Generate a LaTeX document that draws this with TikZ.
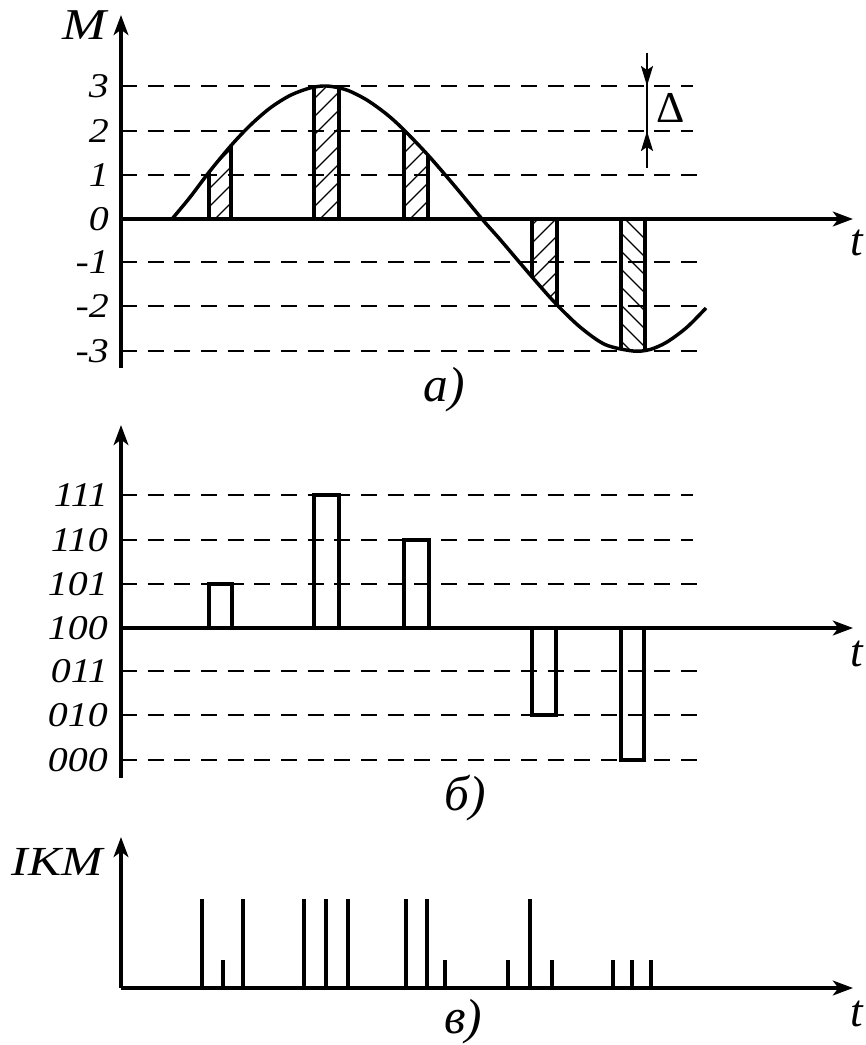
\documentclass[tikz,border=0pt]{standalone}
\usepackage{fontspec}
\setmainfont{Liberation Serif}
\newfontfamily\widefont[FakeStretch=1.15]{Liberation Serif}
\newfontfamily\widerfont[FakeStretch=1.2]{Liberation Serif}
\usetikzlibrary{arrows.meta}
\tikzset{
  axisline/.style={line width=3pt,-{Stealth[length=15pt,width=11pt,inset=4pt]}},
  dashline/.style={line width=2pt,dash pattern=on 12pt off 8pt},
  curveline/.style={line width=2.6pt,line join=round},
  barside/.style={line width=3pt},
  hatchline/.style={line width=1pt},
  codebar/.style={line width=2.8pt},
  pulse/.style={line width=2.5pt},
  lvl/.style={anchor=east,inner sep=0pt,font=\widefont\fontsize{26}{30}\selectfont\itshape},
  axname/.style={inner sep=0pt,font=\widerfont\fontsize{33}{38}\selectfont\itshape},
  tname/.style={inner sep=0pt,font=\fontsize{34}{40}\selectfont\itshape},
  capt/.style={inner sep=0pt,font=\fontsize{37}{44}\selectfont\itshape},
  dimarrow/.style={line width=1.5pt,-{Stealth[length=15pt,width=9pt,inset=3pt]}}
}
\begin{document}
\begin{tikzpicture}[x=0.75pt,y=-0.75pt]
\useasboundingbox (0,0) rectangle (865,1045);
\fill[white] (0,0) rectangle (865,1045);

% ================= panel a =================
\coordinate (aO) at (121,219);
\coordinate (aB) at (121,368);
\coordinate (aT) at (121,15);
\coordinate (aR) at (853,219);

% dashed levels
\foreach \y/\e in {86/693,131/693,175/703,262/703,306/703,351/703}
  \draw[dashline] (121,\y) -- (\e,\y);

% hatched samples
\begin{scope}
  \clip plot[smooth,tension=0.5] coordinates {(172,219) (190,197.3) (209,172.2) (231,145.6) (250,125.5) (270,108.1) (290,95.5) (310,88) (327,86) (347,90.1) (367,100.1) (387,114.5) (404,130) (428,155.1) (455,186.4) (482,219) (500,239.4) (520,262.9) (540,286.1) (557,304.9) (580,327) (605,344.5) (633,351) (650,349.5) (667,342) (687,327.2) (706,308)} -- (706,219) -- cycle;
  \foreach \xl/\xr in {209/231,314/339,404/428,532/557}{
    \begin{scope}
      \clip (\xl,0) rectangle (\xr,400);
      \foreach \k in {-8,...,12}
        \draw[hatchline] (\xl-5,230-\k*18) -- ++(50,-50);
    \end{scope}
  }
  \begin{scope}
    \clip (621,0) rectangle (645,400);
    \foreach \k in {-8,...,12}
      \draw[hatchline] (616,210-\k*18) -- ++(50,50);
  \end{scope}
  \foreach \x in {209,231,314,339,404,428}
    \draw[barside] (\x,219) -- (\x,40);
  \foreach \x in {532,557,621,645}
    \draw[barside] (\x,219) -- (\x,400);
\end{scope}

% signal curve
\draw[curveline] plot[smooth,tension=0.5] coordinates {(172,219) (190,197.3) (209,172.2) (231,145.6) (250,125.5) (270,108.1) (290,95.5) (310,88) (327,86) (347,90.1) (367,100.1) (387,114.5) (404,130) (428,155.1) (455,186.4) (482,219) (500,239.4) (520,262.9) (540,286.1) (557,304.9) (580,327) (605,344.5) (633,351) (650,349.5) (667,342) (687,327.2) (706,308)};

% axes
\draw[axisline] (aO) -- (aR);
\draw[axisline] (aB) -- (aT);

% level labels
\node[lvl] (a3) at (109,86) {3};
\node[lvl] (a2) at (109,131) {2};
\node[lvl] (a1) at (109,175) {1};
\node[lvl] (a0) at (109,219) {0};
\node[lvl] (am1) at (109,262) {-1};
\node[lvl] (am2) at (109,306) {-2};
\node[lvl] (am3) at (109,351) {-3};
\node[axname] (aM) at (84,25) {M};
\node[tname] (at) at (857,243) {t};
\node[capt] (acap) at (444,390) {а)};

% delta
\coordinate (d1) at (647,53);
\coordinate (d2) at (647,86);
\coordinate (d3) at (647,131);
\coordinate (d4) at (647,168);
\draw[line width=1.5pt] (d1) -- (d4);
\draw[dimarrow] (d1) -- (d2);
\draw[dimarrow] (d4) -- (d3);
\node[inner sep=0pt,font=\fontsize{33}{38}\selectfont] (delta) at (671,108) {Δ};

% ================= panel b =================
\coordinate (bO) at (121,628);
\coordinate (bB) at (121,778);
\coordinate (bT) at (121,425);
\coordinate (bR) at (853,628);
\foreach \y/\e in {495/693,540/693,584/703,671/703,715/703,760/703}
  \draw[dashline] (121,\y) -- (\e,\y);
\draw[codebar] (209,628) rectangle (232,584);
\draw[codebar] (314,628) rectangle (339,495);
\draw[codebar] (404,628) rectangle (429,540);
\draw[codebar] (532,628) rectangle (556,715);
\draw[codebar] (621,628) rectangle (644,760);
\draw[axisline] (bO) -- (bR);
\draw[axisline] (bB) -- (bT);
\node[lvl] (b111) at (108,495) {111};
\node[lvl] (b110) at (108,540) {110};
\node[lvl] (b101) at (108,584) {101};
\node[lvl] (b100) at (108,628) {100};
\node[lvl] (b011) at (108,671) {011};
\node[lvl] (b010) at (108,715) {010};
\node[lvl] (b000) at (108,760) {000};
\node[tname] (bt) at (857,654) {t};
\node[capt] (bcap) at (465,798) {б)};

% ================= panel c =================
\coordinate (cO) at (121,988);
\coordinate (cT) at (121,837);
\coordinate (cR) at (853,988);
\foreach \x in {202,243,304,326,348,406,427,530}
  \draw[pulse] (\x,988) -- (\x,899);
\foreach \x in {223,445,508,552,613,632,651}
  \draw[pulse] (\x,988) -- (\x,960);
\draw[axisline] (cO) -- (cR);
\draw[axisline] (cO) -- (cT);
\node[inner sep=0pt,font=\widerfont\fontsize{31}{36}\selectfont\itshape] (cIKM) at (57,862) {IKM};
\node[tname] (ct) at (857,1014) {t};
\node[capt] (ccap) at (463,1022) {в)};
\end{tikzpicture}
\end{document}
